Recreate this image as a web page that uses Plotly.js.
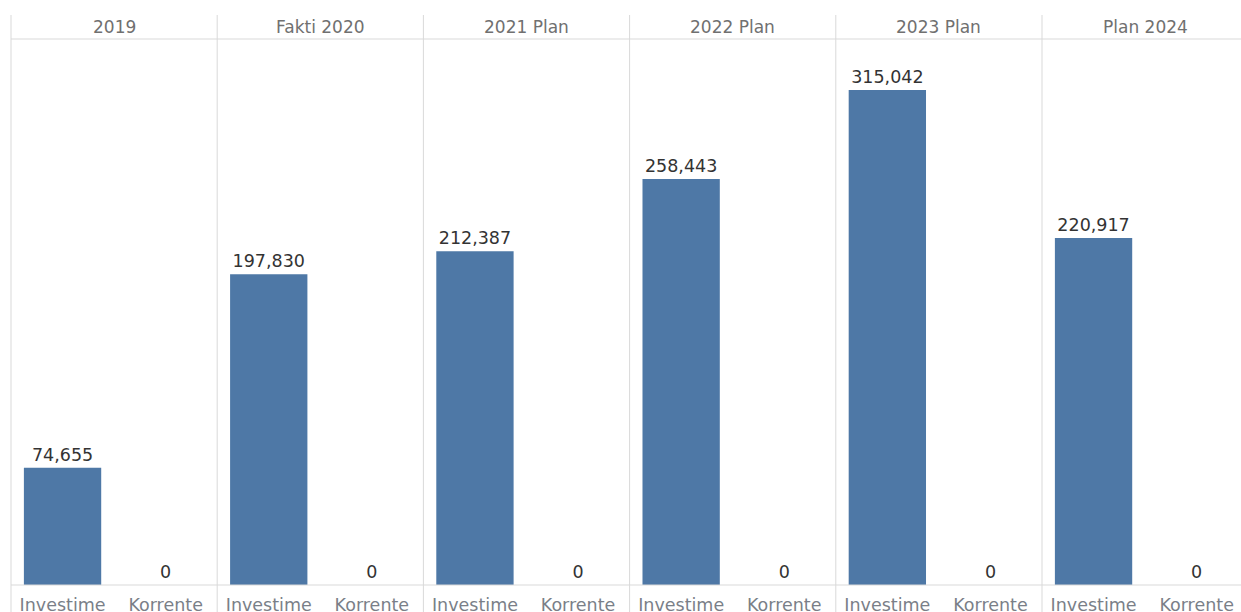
<!DOCTYPE html>
<html>
<head>
<meta charset="utf-8">
<script src="https://cdn.plot.ly/plotly-3.0.1.min.js"></script>
<style>html,body{margin:0;padding:0;background:#fff;overflow:hidden}#chart{width:1241px;height:612px}</style>
</head>
<body>
<div id="chart"></div>
<script>
const years = ['2019', 'Fakti 2020', '2021 Plan', '2022 Plan', '2023 Plan', 'Plan 2024'];
const categories = ['Investime', 'Korrente'];
const investime = [74655, 197830, 212387, 258443, 315042, 220917];
const korrente = [0, 0, 0, 0, 0, 0];

const W = 1241, H = 612;
const mL = 11, mR = 0, mT = 39, mB = 27;
const plotW = W - mL - mR, plotH = H - mT - mB;
const panelW = 206.2;
const lineColor = '#d9d9d9';
const font = 'DejaVu Sans, sans-serif';

const traces = [];
const layout = {
  width: W, height: H,
  margin: {l: mL, r: mR, t: mT, b: mB, pad: 0},
  paper_bgcolor: '#ffffff', plot_bgcolor: '#ffffff',
  showlegend: false,
  bargap: 0.25,
  font: {family: font, size: 17, color: '#333333'},
  yaxis: {range: [0, 347500], visible: false, showgrid: false, zeroline: false, fixedrange: true},
  shapes: [], annotations: []
};

years.forEach((yr, i) => {
  const x0 = i * panelW / plotW;
  const x1 = Math.min((i + 1) * panelW / plotW, 1);
  const axName = i === 0 ? 'xaxis' : 'xaxis' + (i + 1);
  const axRef = i === 0 ? 'x' : 'x' + (i + 1);
  const widthCats = (x1 - x0) * plotW / (panelW / 2);
  layout[axName] = {
    domain: [x0, x1],
    range: [-0.5, -0.5 + widthCats],
    type: 'category',
    anchor: 'y',
    showgrid: false, zeroline: false, showline: false,
    ticks: '', ticklabelstandoff: 7,
    tickfont: {family: font, size: 17.5, color: '#7a7f88'},
    fixedrange: true
  };
  traces.push({
    type: 'bar',
    x: categories,
    y: [investime[i], korrente[i]],
    xaxis: axRef, yaxis: 'y',
    width: 0.75,
    marker: {color: '#4e78a6'},
    texttemplate: '%{y:,}',
    textposition: 'outside',
    cliponaxis: false,
    textfont: {family: font, size: 17.5, color: '#333333'},
    hoverinfo: 'skip'
  });
  layout.annotations.push({
    xref: 'paper', yref: 'paper',
    x: (i * panelW + panelW / 2) / plotW,
    y: 1 + 12 / plotH,
    text: yr, showarrow: false,
    xanchor: 'center', yanchor: 'middle',
    font: {family: font, size: 17, color: '#707070'}
  });
  layout.shapes.push({
    type: 'line', xref: 'paper', yref: 'paper',
    x0: x0, x1: x0, y0: -mB / plotH, y1: 1 + 24 / plotH,
    line: {color: lineColor, width: 1}
  });
});

layout.shapes.push({type: 'line', xref: 'paper', yref: 'paper', x0: 0, x1: 1, y0: 1, y1: 1, line: {color: lineColor, width: 1}});
layout.shapes.push({type: 'line', xref: 'paper', yref: 'paper', x0: 0, x1: 1, y0: 0, y1: 0, line: {color: lineColor, width: 1}});

Plotly.newPlot('chart', traces, layout, {displayModeBar: false, staticPlot: true});
</script>
</body>
</html>
